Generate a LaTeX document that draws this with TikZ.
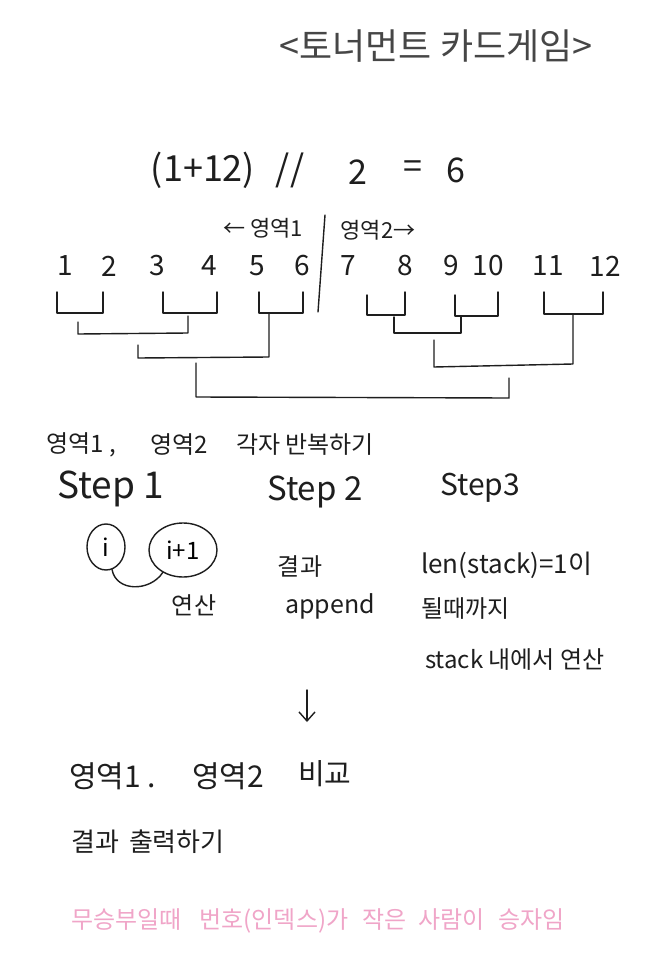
\documentclass[tikz,border=0pt]{standalone}
\usepackage{fontspec}
\setmainfont{Noto Sans CJK KR}
\usetikzlibrary{shapes.geometric,arrows.meta}
\definecolor{ink}{RGB}{30,30,30}
\definecolor{titleink}{RGB}{70,70,70}
\definecolor{pinkink}{RGB}{240,165,200}
\newcommand{\hwsize}[1]{\fontsize{#1}{#1}\selectfont}
\tikzset{
  txt/.style={inner sep=0pt, text=ink},
  pen/.style={draw=ink, line width=1.4pt, line cap=round, line join=round},
  ring/.style={ellipse, draw=ink, line width=1.4pt, inner sep=0pt}
}
\begin{document}
\begin{tikzpicture}[x=1pt,y=-1pt]
\fill[white] (0,0) rectangle (661,960);
\useasboundingbox (0,0) rectangle (661,960);

% title
\node[txt, text=titleink] (title) at (436,46) {\hwsize{36}<토너먼트 카드게임>};

% formula
\node[txt] (f1) at (203,170) {\hwsize{36}(1+12)};
\node[txt] (f2) at (290,170) {\hwsize{36}//};
\node[txt] (f3) at (358,172) {\hwsize{34}2};
\node[txt] (f4) at (413,170) {\hwsize{34}=};
\node[txt] (f5) at (456,170) {\hwsize{34}6};

% regions
\node[txt] (r1) at (263,228) {\hwsize{22}← 영역1};
\node[txt] (r2) at (378,230) {\hwsize{22}영역2→};
\coordinate (dv1) at (325,215);
\coordinate (dv2) at (318,312);
\draw[pen] (dv1) -- (dv2);

% numbers
\foreach \n/\x in {1/65,2/109,3/157,4/209,5/257,6/302,7/348,8/405,9/451,10/488,11/548,12/605}{
  \node[txt] (n\n) at (\x,266) {\hwsize{28}\n};
}

% level 1 brackets
\draw[pen] (57,292) -- (57,313) -- (103,313) -- (103,292);
\draw[pen] (163,292) -- (163,313) -- (217,313) -- (217,292);
\draw[pen] (259,292) -- (259,313) -- (303,313) -- (303,292);
\draw[pen] (367,295) -- (367,315) -- (405,315) -- (405,292);
\draw[pen] (455,295) -- (455,316) -- (498,316) -- (498,292);
\draw[pen] (544,292) -- (544,314) -- (603,314) -- (603,292);
% level 2
\draw[pen] (78,322) -- (78,334) -- (188,333) -- (188,316);
\draw[pen] (394,317) -- (394,333) -- (461,333) -- (461,316);
% level 3
\draw[pen] (138,345) -- (138,358) -- (269,357) -- (269,313);
\draw[pen] (434,340) -- (434,367) -- (573,364) -- (573,314);
% final
\draw[pen] (196,363) -- (196,397) -- (509,398) -- (509,378);

% repeat line
\node[txt, anchor=west] (rep1) at (46,445) {\hwsize{24}영역1 ,};
\node[txt, anchor=west] (rep2) at (150,445) {\hwsize{24}영역2};
\node[txt, anchor=west] (rep3) at (236,445) {\hwsize{24}각자 반복하기};

% steps
\node[txt, anchor=west] (s1) at (57,489) {\hwsize{37}Step 1};
\node[txt, anchor=west] (s2) at (267,492) {\hwsize{33}Step 2};
\node[txt, anchor=west] (s3) at (440,488) {\hwsize{30}Step3};

% step 1
\node[ring, minimum width=38pt, minimum height=46pt] (ci) at (106,547) {\hwsize{24}i};
\node[ring, minimum width=68pt, minimum height=54pt] (cip) at (183,550) {\hwsize{24}i+1};
\draw[pen] (ci.285) .. controls (116,592) and (150,592) .. (cip.228);
\node[txt] (op) at (194,605) {\hwsize{24}연산};

% step 2
\node[txt] (res) at (300,567) {\hwsize{24}결과};
\node[txt] (app) at (330,606) {\hwsize{25}append};

% step 3
\node[txt, anchor=west] (len) at (421,565) {\hwsize{26}len(stack)=1이};
\node[txt, anchor=west] (until) at (421,609) {\hwsize{24}될때까지};
\node[txt, anchor=west] (stk) at (425,660) {\hwsize{24}stack 내에서 연산};

% arrow
\coordinate (ar1) at (307,690);
\coordinate (ar2) at (307,722);
\draw[pen, -{Straight Barb[length=9pt,width=16pt]}] (ar1) -- (ar2);

% compare
\node[txt, anchor=west] (cmp1) at (69,776) {\hwsize{30}영역1 .};
\node[txt, anchor=west] (cmp2) at (192,776) {\hwsize{30}영역2};
\node[txt, anchor=west] (cmp3) at (298,774) {\hwsize{29}비교};

\node[txt, anchor=west] (out) at (71,842) {\hwsize{26}결과\hspace{10pt}출력하기};

% pink note
\node[txt, text=pinkink, anchor=west] (note) at (71,921) {\hwsize{24}무승부일때\hspace{18pt}번호(인덱스)가\hspace{14pt}작은\hspace{12pt}사람이\hspace{14pt}승자임};
\end{tikzpicture}
\end{document}
